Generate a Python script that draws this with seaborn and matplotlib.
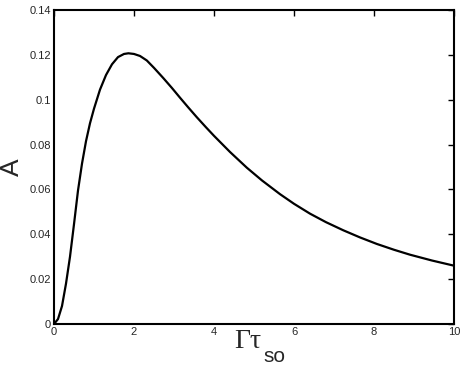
import numpy as np
import pandas as pd
import matplotlib
matplotlib.use("Agg")
import matplotlib.pyplot as plt
import seaborn as sns

# values
gamma_tau = [0.0, 0.1, 0.2, 0.3, 0.4, 0.5, 0.6, 0.7, 0.8, 0.9, 1.0, 1.15,
             1.3, 1.45, 1.6, 1.75, 1.86, 2.0, 2.15, 2.32, 2.5, 2.73, 2.95,
             3.15, 3.35, 3.57, 3.8, 4.0, 4.4, 4.82, 5.2, 5.65, 6.0, 6.4,
             6.8, 7.23, 7.65, 8.07, 8.5, 8.9, 9.45, 10.0]
amp = [0.0, 0.0022, 0.008, 0.018, 0.030, 0.0445, 0.0595, 0.0715, 0.0815,
       0.0895, 0.096, 0.1045, 0.111, 0.1158, 0.119, 0.1204, 0.1207, 0.1204,
       0.1195, 0.1175, 0.1142, 0.1097, 0.1052, 0.1009, 0.0967, 0.0922,
       0.0877, 0.0839, 0.0767, 0.0697, 0.064, 0.0579, 0.0536, 0.0492,
       0.0454, 0.0418, 0.0386, 0.0357, 0.0331, 0.0309, 0.0283, 0.026]
x_ticks = [0, 2, 4, 6, 8, 10]
y_ticks = [0, 0.02, 0.04, 0.06, 0.08, 0.1, 0.12, 0.14]

df = pd.DataFrame({"x": gamma_tau, "A": amp})

sns.set_style("white")
plt.rcParams["font.family"] = ["Liberation Sans", "DejaVu Sans"]

fig = plt.figure(figsize=(4.63, 3.68), dpi=100)
ax = fig.add_axes([54 / 463, 1 - 324 / 368, 400 / 463, 314 / 368])

sns.lineplot(data=df, x="x", y="A", color="black", linewidth=1.6, ax=ax)

ax.set_xlim(0, 10)
ax.set_ylim(0, 0.14)
ax.set_xticks(x_ticks)
ax.set_yticks(y_ticks)
ax.set_xticklabels([f"{v:g}" for v in x_ticks])
ax.set_yticklabels([f"{v:g}" for v in y_ticks])
ax.tick_params(direction="in", length=4, width=1, top=True, right=True,
               labelsize=8, pad=2, color="black")
for s in ax.spines.values():
    s.set_linewidth(1.5)
    s.set_color("black")

ax.set_ylabel("A", fontsize=19, labelpad=4)
ax.set_xlabel("")
# x label: Gamma tau (symbol-like serif) with a large "so" subscript
fig.text(234 / 463, 1 - 348 / 368, "Γτ", fontsize=20, va="baseline", ha="left",
         family=["Liberation Serif", "DejaVu Serif"])
fig.text(263 / 463, 1 - 362 / 368, "so", fontsize=15, va="baseline", ha="left")

fig.savefig("out.png", dpi=100)
